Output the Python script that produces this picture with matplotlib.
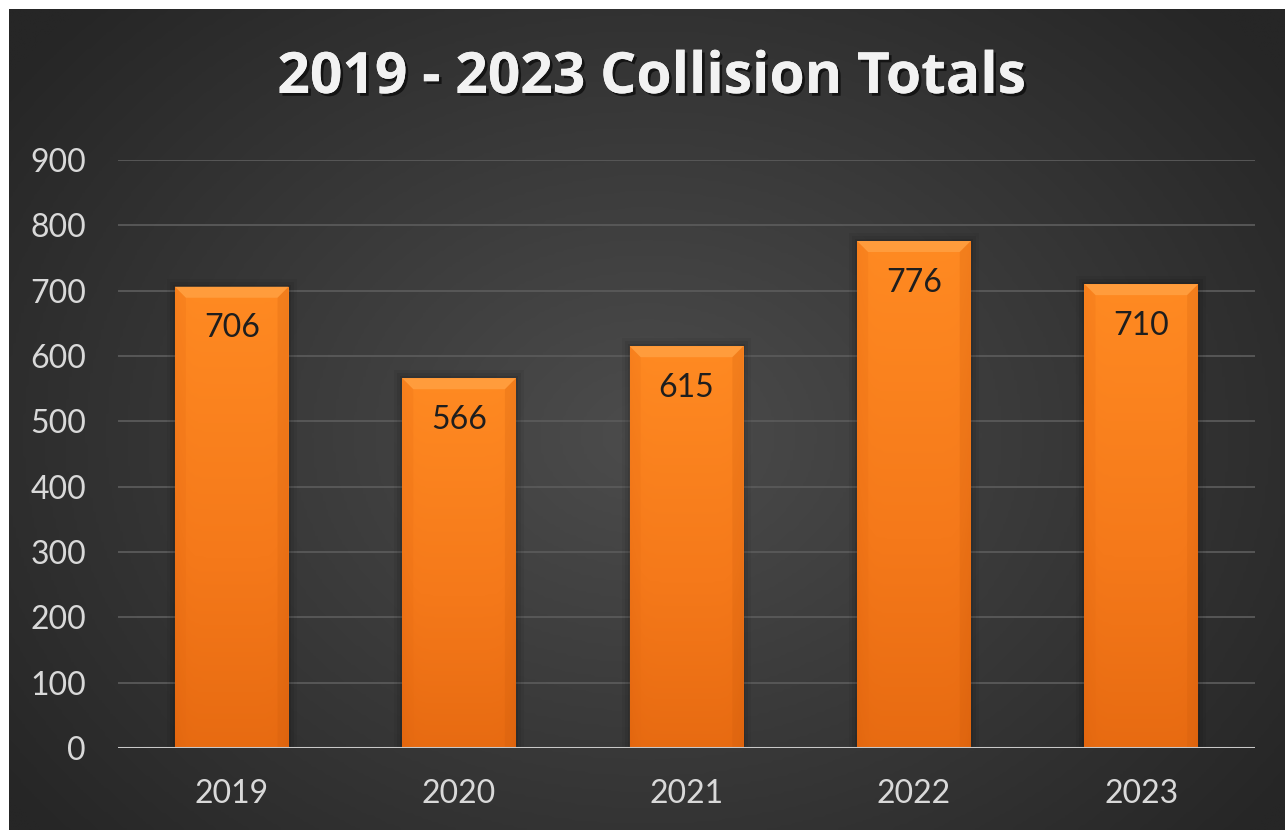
import numpy as np
import matplotlib
matplotlib.use("Agg")
import matplotlib.pyplot as plt
from matplotlib.patches import Rectangle, Polygon
from matplotlib.colors import LinearSegmentedColormap
import matplotlib.patheffects as pe

years = ["2019", "2020", "2021", "2022", "2023"]
collisions = [706, 566, 615, 776, 710]
y_ticks = [0, 100, 200, 300, 400, 500, 600, 700, 800, 900]
title = "2019 - 2023 Collision Totals"

W, H, DPI = 1285, 830, 100
FONT = ["Lato", "DejaVu Sans"]

fig = plt.figure(figsize=(W / DPI, H / DPI), dpi=DPI, facecolor="white")

# dark panel with a soft radial highlight in the middle
bg = fig.add_axes([9 / W, 0, (W - 9) / W, (H - 9) / H])
bg.set_axis_off()
yy, xx = np.mgrid[0:1:300j, 0:1:460j]
r = np.sqrt(((xx - 0.5) / 0.62) ** 2 + ((yy - 0.52) / 0.75) ** 2)
r = np.clip(r, 0, 1)
panel = LinearSegmentedColormap.from_list("panel", ["#4c4c4c", "#262626"])
bg.imshow(r, cmap=panel, aspect="auto", extent=[0, 1, 0, 1], interpolation="bilinear")
bg.set_xlim(0, 1)
bg.set_ylim(0, 1)

ax = fig.add_axes([118 / W, 82 / H, (1255 - 118) / W, (748 - 160) / H])
ax.set_facecolor("none")
ax.set_xlim(-0.5, len(years) - 0.5)
ax.set_ylim(0, 900)
ax.set_yticks(y_ticks)
ax.set_xticks(range(len(years)))
ax.set_xticklabels(years)
for s in ax.spines.values():
    s.set_visible(False)
ax.tick_params(length=0, colors="#d9d9d9", labelsize=23)
ax.tick_params(axis="y", pad=23)
ax.tick_params(axis="x", pad=22)
for lbl in ax.get_xticklabels() + ax.get_yticklabels():
    lbl.set_family(FONT)
ax.grid(axis="y", color="#5a5a5a", linewidth=1.3, zorder=0)
ax.set_axisbelow(True)

bar_w = 0.5
px_x = (1255 - 118) / len(years)   # pixels per x unit
px_y = (748 - 160) / 900           # pixels per y unit
orange = LinearSegmentedColormap.from_list("orange", ["#e2650e", "#f5791a", "#ff8a22"])

for i, v in enumerate(collisions):
    x0 = i - bar_w / 2
    # soft dark halo behind each bar
    for k, a in ((8, 0.05), (5, 0.07), (2, 0.09)):
        ax.add_patch(Rectangle((x0 - k / px_x, 0), bar_w + 2 * k / px_x, v + k / px_y,
                               facecolor="black", alpha=a, edgecolor="none", zorder=2))
    rect = Rectangle((x0, 0), bar_w, v, facecolor="none", edgecolor="none", zorder=3)
    ax.add_patch(rect)
    gy = np.linspace(0, 1, 200)[:, None]
    gx = np.linspace(-1, 1, 60)[None, :]
    grad = gy * 0.85 + 0.15 - 0.12 * gx ** 8
    im = ax.imshow(grad, cmap=orange, vmin=0, vmax=1, origin="lower", aspect="auto",
                   extent=[x0, x0 + bar_w, 0, v], zorder=3, interpolation="bilinear")
    im.set_clip_path(rect)
    # bevelled top edge
    dx, dy = 11 / px_x, 11 / px_y
    ax.add_patch(Polygon([(x0, v), (x0 + bar_w, v), (x0 + bar_w - dx, v - dy), (x0 + dx, v - dy)],
                         closed=True, facecolor="#ff9c3c", edgecolor="none", zorder=4))
    ax.add_patch(Polygon([(x0, v), (x0 + dx, v - dy), (x0 + dx, 0), (x0, 0)],
                         closed=True, facecolor="#e46a12", alpha=0.2, edgecolor="none", zorder=4))
    ax.add_patch(Polygon([(x0 + bar_w, v), (x0 + bar_w - dx, v - dy), (x0 + bar_w - dx, 0), (x0 + bar_w, 0)],
                         closed=True, facecolor="#c85a0c", alpha=0.2, edgecolor="none", zorder=4))
    ax.annotate(str(v), (i, v), xytext=(0, -30), textcoords="offset points",
                ha="center", va="center", fontsize=23, color="#1e1e1e", family=FONT, zorder=5)

ax.axhline(0, color="#c8c8c8", linewidth=2.2, zorder=6)

fig.text(652 / W, 1 - 78 / H, title, ha="center", va="center", fontsize=41,
         fontweight="bold", color="#f2f2f2", family=["Open Sans", "DejaVu Sans"],
         path_effects=[pe.withSimplePatchShadow(offset=(2, -2), shadow_rgbFace="black", alpha=0.6),
                       pe.Normal()])

fig.savefig("out.png", dpi=DPI, facecolor=fig.get_facecolor())
